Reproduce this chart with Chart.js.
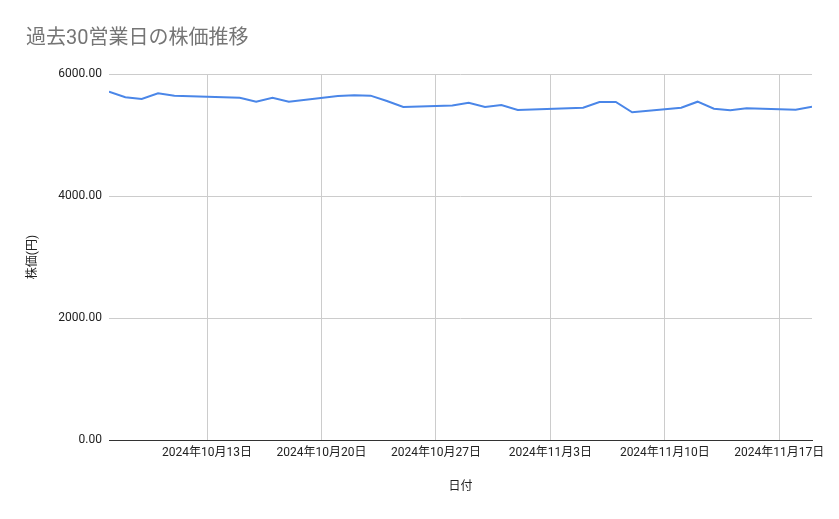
<!DOCTYPE html>
<html>
<head>
<meta charset="utf-8">
<script src="https://cdn.jsdelivr.net/npm/chart.js@4.4.0/dist/chart.umd.min.js"></script>
<style>
  html, body { margin: 0; padding: 0; background: #fff; }
  #wrap { width: 839px; height: 519px; }
</style>
</head>
<body>
<div id="wrap"><canvas id="myChart" width="839" height="519"></canvas></div>
<script>
// 営業日 (祝日 10/14, 11/4 を除く)
var dates = ['2024-10-07', '2024-10-08', '2024-10-09', '2024-10-10', '2024-10-11',
             '2024-10-15', '2024-10-16', '2024-10-17', '2024-10-18',
             '2024-10-21', '2024-10-22', '2024-10-23', '2024-10-24', '2024-10-25',
             '2024-10-28', '2024-10-29', '2024-10-30', '2024-10-31', '2024-11-01',
             '2024-11-05', '2024-11-06', '2024-11-07', '2024-11-08',
             '2024-11-11', '2024-11-12', '2024-11-13', '2024-11-14', '2024-11-15',
             '2024-11-18', '2024-11-19'];
var prices = [5710, 5618, 5590, 5683, 5645,
              5612, 5546, 5612, 5546,
              5639, 5650, 5645, 5557, 5459,
              5484, 5530, 5459, 5492, 5410,
              5448, 5541, 5541, 5372,
              5448, 5546, 5432, 5405, 5437,
              5415, 5464];
var tickDates = ['2024-10-13', '2024-10-20', '2024-10-27', '2024-11-03', '2024-11-10', '2024-11-17'];
var yTicks = [0, 2000, 4000, 6000];

var FONT = "Roboto, 'Noto Sans CJK JP', sans-serif";

var toTs = function (s) {
    var p = s.split('-');
    return Date.UTC(+p[0], +p[1] - 1, +p[2]);
};

var fmtDate = function (ts) {
    var d = new Date(ts);
    return d.getUTCFullYear() + '年' + (d.getUTCMonth() + 1) + '月' + d.getUTCDate() + '日';
};

var points = dates.map(function (d, i) {
    return { x: toTs(d), y: prices[i] };
});

var ctx = document.getElementById('myChart');

new Chart(ctx, {
    type: 'line',
    data: {
        datasets: [{
            label: '株価',
            data: points,
            borderColor: '#4a86e8',
            backgroundColor: '#4a86e8',
            borderWidth: 2,
            pointRadius: 0,
            fill: false,
            tension: 0
        }]
    },
    options: {
        responsive: false,
        animation: false,
        devicePixelRatio: 1,
        layout: { padding: { left: 26, right: 27, top: 0, bottom: 0 } },
        plugins: {
            legend: { display: false },
            tooltip: { enabled: false },
            title: {
                display: true,
                text: '過去30営業日の株価推移',
                align: 'start',
                color: '#757575',
                font: { family: FONT, size: 20, weight: 'normal', lineHeight: 1.2 },
                padding: { top: 27, bottom: 23 }
            }
        },
        scales: {
            x: {
                type: 'linear',
                min: toTs(dates[0]),
                max: toTs(dates[dates.length - 1]),
                afterBuildTicks: function (scale) {
                    scale.ticks = tickDates.map(function (d) { return { value: toTs(d) }; });
                },
                afterFit: function (scale) { scale.height = 79; },
                ticks: {
                    autoSkip: false,
                    maxRotation: 0,
                    padding: 6,
                    color: '#222222',
                    font: { family: FONT, size: 12 },
                    callback: function (v) { return fmtDate(v); }
                },
                grid: { color: '#cccccc', drawTicks: false, lineWidth: 1 },
                border: { display: true, color: '#333333', width: 1 },
                title: {
                    display: true,
                    text: '日付',
                    color: '#222222',
                    font: { family: FONT, size: 12 },
                    padding: { top: 25, bottom: 25 }
                }
            },
            y: {
                min: 0,
                max: 6000,
                afterBuildTicks: function (scale) {
                    scale.ticks = yTicks.map(function (v) { return { value: v }; });
                },
                afterFit: function (scale) { scale.width = 83; },
                ticks: {
                    padding: 7,
                    color: '#222222',
                    font: { family: FONT, size: 12 },
                    callback: function (v) { return Number(v).toFixed(2); }
                },
                grid: { color: '#cccccc', drawTicks: false, lineWidth: 1 },
                border: { display: false },
                title: {
                    display: true,
                    text: '株価(円)',
                    color: '#222222',
                    font: { family: FONT, size: 12 },
                    padding: { top: 0, bottom: 0 }
                }
            }
        }
    }
});
</script>
</body>
</html>
